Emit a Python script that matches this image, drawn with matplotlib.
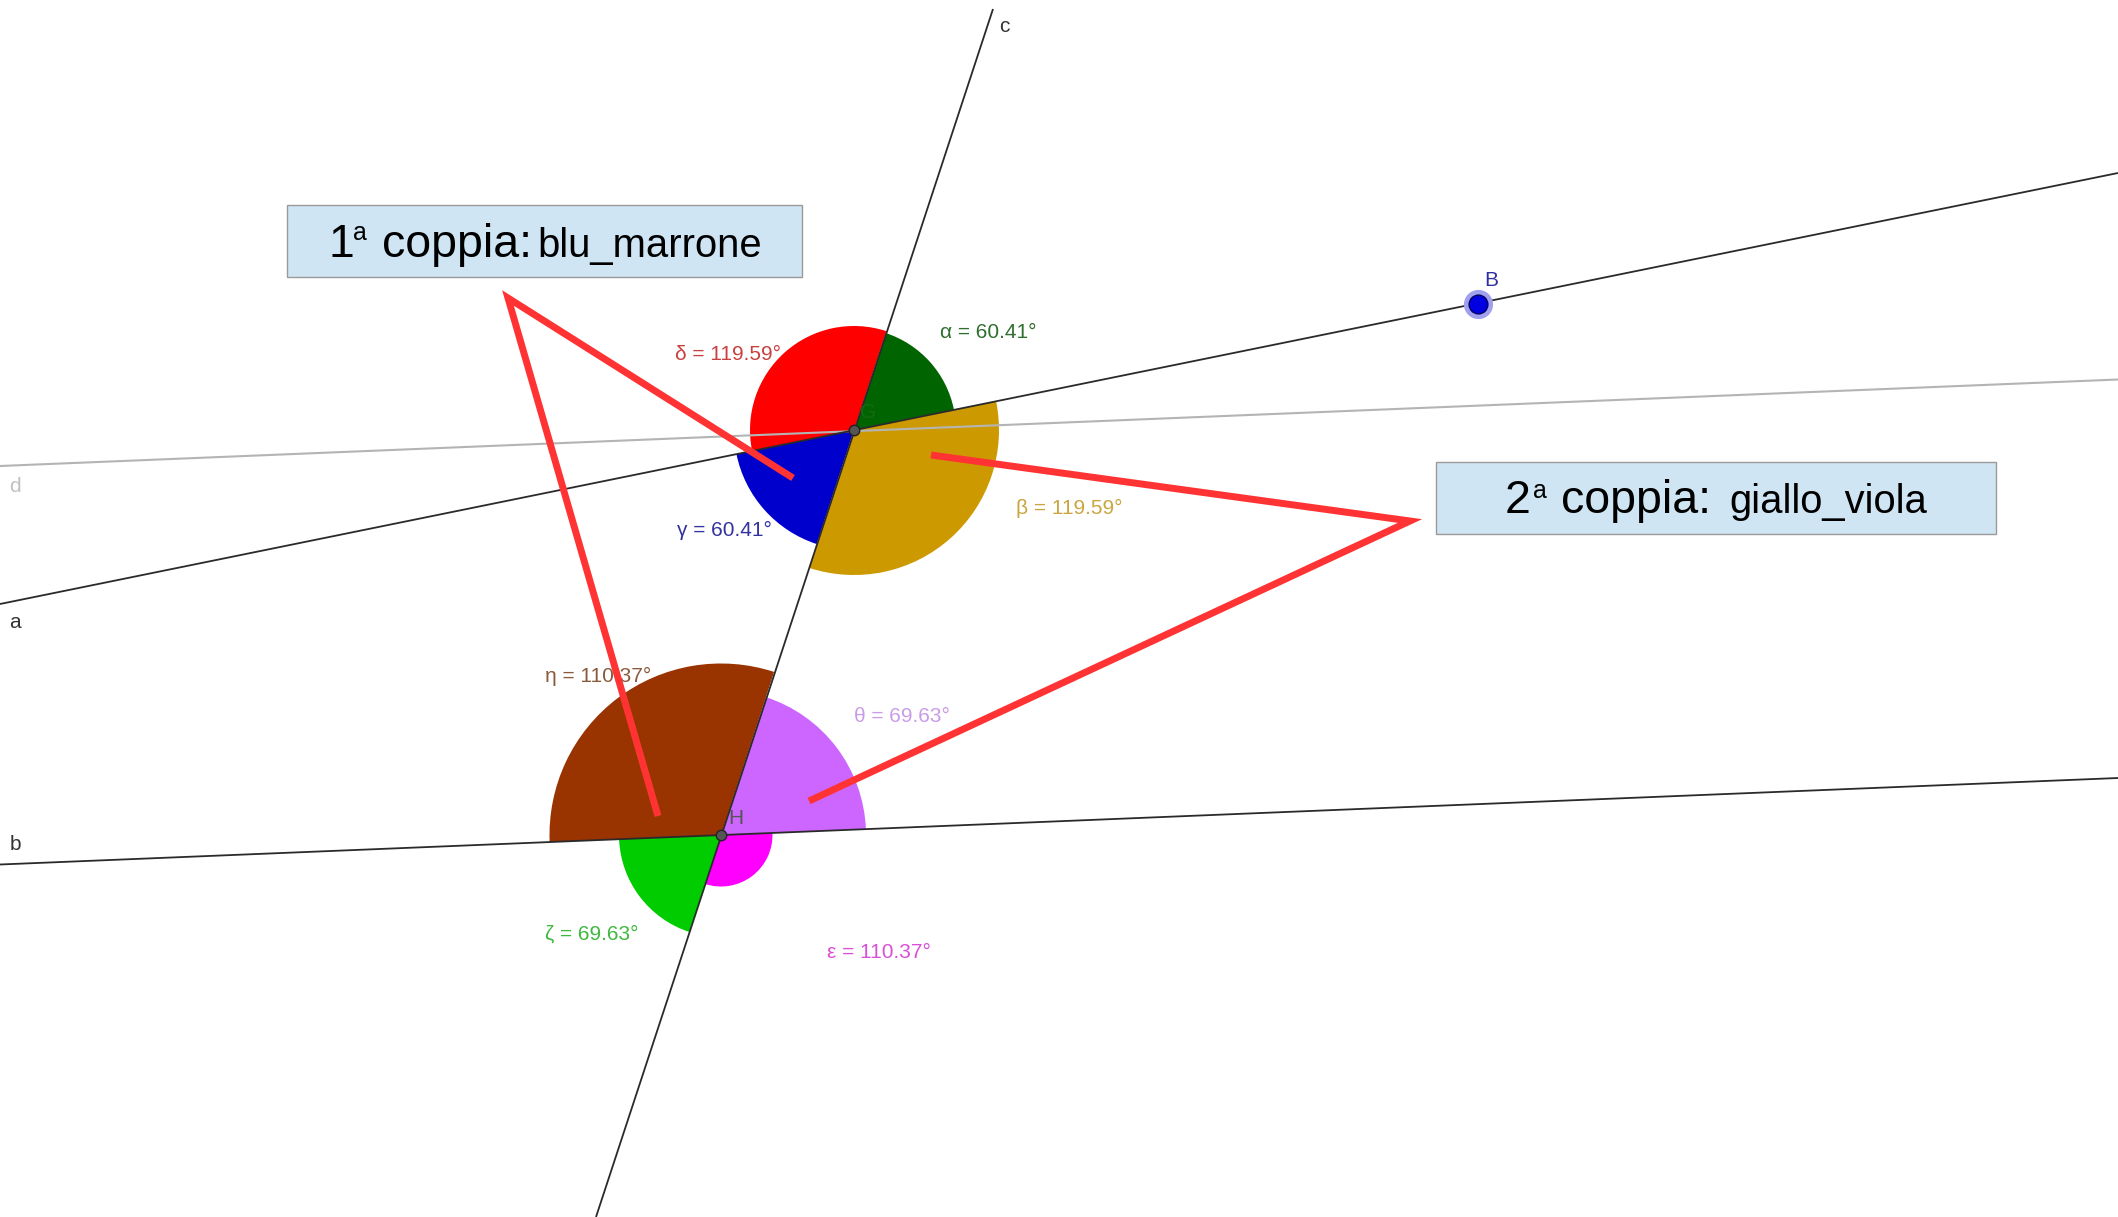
import numpy as np
import matplotlib
matplotlib.use("Agg")
import matplotlib.pyplot as plt
from matplotlib.patches import Wedge, Rectangle

plt.rcParams['font.family'] = ['Liberation Sans', 'DejaVu Sans']

W = 2118
H = 1217

# straight lines, picture coordinates
line_a = [(0, 604), (2118, 173)]
line_b = [(0, 864.5), (2118, 778)]
line_c = [(596, 1217), (993, 9)]
line_d = [(0, 466), (2118, 379.5)]

# the two vertices
vertex_top = (854, 430)
vertex_bot = (721, 835)
point_b = (1478, 304)

# angles at the top vertex, counter clockwise from line a
top_names = ["α", "δ", "γ", "β"]
top_values = [60.41, 119.59, 60.41, 119.59]
top_radii = [102, 104, 120, 145]
top_colors = ["#006400", "#ff0000", "#0000cc", "#cc9900"]
top_text_colors = ["#2f6f2f", "#c8403f", "#3333a0", "#c9a640"]
top_label_xy = [(988, 332), (728, 355), (724, 530), (1069, 508)]

# angles at the bottom vertex, counter clockwise from line b
bot_names = ["θ", "η", "ζ", "ε"]
bot_values = [69.63, 110.37, 69.63, 110.37]
bot_radii = [145, 171.5, 102, 51.5]
bot_colors = ["#cc66ff", "#993300", "#00cc00", "#ff00ff"]
bot_text_colors = ["#c99ce8", "#8a5a3c", "#40b840", "#d850d8"]
bot_label_xy = [(902, 717), (598, 676), (592, 934), (879, 952)]

# red pointer lines
red_1_x = [793, 508, 658]
red_1_y = [478, 298, 816]
red_2_x = [931, 1410, 809]
red_2_y = [455, 521, 801]

# boxes: x0, y0, x1, y1
box_1 = (287, 205, 802, 277)
box_2 = (1436, 462, 1996, 534)

fig = plt.figure(figsize=(W / 100, H / 100), dpi=100)
ax = fig.add_axes([0, 0, 1, 1])
ax.set_xlim(0, W)
ax.set_ylim(H, 0)
ax.axis('off')


def line_angle(line):
    (x0, y0), (x1, y1) = line
    return np.degrees(np.arctan2(y0 - y1, x1 - x0))


def draw_angles(center, start, values, radii, colors):
    # y axis is inverted, so angles go in with a minus
    a = start
    for val, r, col in zip(values, radii, colors):
        ax.add_patch(Wedge(center, r, -(a + val), -a, facecolor=col,
                           edgecolor='none', zorder=2))
        a += val


draw_angles(vertex_top, line_angle(line_a), top_values, top_radii, top_colors)
draw_angles(vertex_bot, line_angle(line_b), bot_values, bot_radii, bot_colors)

for line, col, lw in [(line_d, '#b4b4b4', 1.5), (line_a, '#2a2a2a', 1.3),
                      (line_b, '#2a2a2a', 1.3), (line_c, '#2a2a2a', 1.3)]:
    ax.plot([line[0][0], line[1][0]], [line[0][1], line[1][1]], color=col,
            lw=lw, zorder=3, solid_capstyle='butt')

for v in (vertex_top, vertex_bot):
    ax.plot(v[0], v[1], 'o', ms=7.5, mfc='#555555', mec='#222222', mew=1, zorder=4)
ax.plot(point_b[0], point_b[1], 'o', ms=21, mfc='#a0a0ee', mec='none', zorder=4)
ax.plot(point_b[0], point_b[1], 'o', ms=13.5, mfc='#0000e0', mec='#000066', mew=1, zorder=5)

for names, values, colors, xy in [(top_names, top_values, top_text_colors, top_label_xy),
                                  (bot_names, bot_values, bot_text_colors, bot_label_xy)]:
    for n, val, col, (x, y) in zip(names, values, colors, xy):
        ax.text(x, y, "%s = %.2f°" % (n, val), color=col, fontsize=15,
                ha='center', va='center', zorder=6)

ax.text(1004, 26, "c", color='#333333', fontsize=15, ha='center', va='center', zorder=6)
ax.text(15, 486, "d", color='#c0c0c0', fontsize=15, ha='center', va='center', zorder=6)
ax.text(15, 622, "a", color='#333333', fontsize=15, ha='center', va='center', zorder=6)
ax.text(15, 844, "b", color='#333333', fontsize=15, ha='center', va='center', zorder=6)
ax.text(1491, 280, "B", color='#3030a0', fontsize=15, ha='center', va='center', zorder=6)
ax.text(736, 819, "H", color='#555555', fontsize=15, ha='center', va='center', zorder=6)
ax.text(868, 413, "G", color='#156a15', fontsize=15, ha='center', va='center', zorder=3)

ax.plot(red_1_x, red_1_y, color='#ff3333', lw=5, zorder=7,
        solid_capstyle='butt', solid_joinstyle='miter')
ax.plot(red_2_x, red_2_y, color='#ff3333', lw=5, zorder=7,
        solid_capstyle='butt', solid_joinstyle='miter')

for b in (box_1, box_2):
    ax.add_patch(Rectangle((b[0], b[1]), b[2] - b[0], b[3] - b[1], facecolor='#cfe5f3',
                           edgecolor='#9a9a9a', lw=1, zorder=8))

ax.text(328, 257, "1", fontsize=33.5, ha='left', va='baseline', zorder=9)
ax.text(353, 240, "a", fontsize=18, ha='left', va='baseline', zorder=9)
ax.text(382, 257, "coppia:", fontsize=33.5, ha='left', va='baseline', zorder=9)
ax.text(537, 257, "blu_marrone", fontsize=28.8, ha='left', va='baseline', zorder=9)

ax.text(1505, 513, "2", fontsize=33.5, ha='left', va='baseline', zorder=9)
ax.text(1533, 498, "a", fontsize=18, ha='left', va='baseline', zorder=9)
ax.text(1561, 513, "coppia:", fontsize=33.5, ha='left', va='baseline', zorder=9)
ax.text(1729, 513, "giallo_viola", fontsize=28.8, ha='left', va='baseline', zorder=9)

fig.savefig("out.png", dpi=100, facecolor='white')
